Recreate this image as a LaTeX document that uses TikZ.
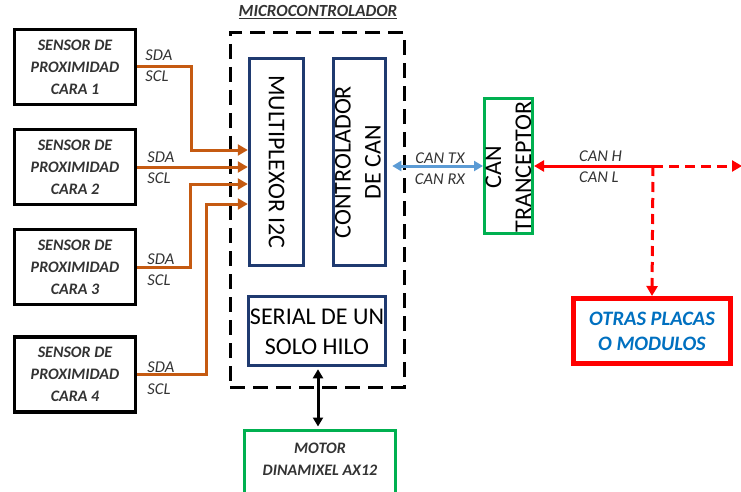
\documentclass[tikz,border=0pt]{standalone}
\usepackage{fontspec}
\setmainfont{Carlito}
\usetikzlibrary{arrows.meta,calc}
\definecolor{orng}{HTML}{C55A11}
\definecolor{navyb}{HTML}{1F3A70}
\definecolor{grn}{HTML}{00B050}
\definecolor{txtgray}{HTML}{333333}
\definecolor{lblue}{HTML}{5B9BD5}
\definecolor{oblue}{HTML}{0070C0}
\definecolor{redc}{HTML}{FF0000}
\begin{document}
\begin{tikzpicture}[x=1pt,y=-1pt,
  sensor/.style={draw=black,line width=3.5pt,minimum width=121pt,minimum height=75pt,
    inner sep=0pt,align=center,text=txtgray,font=\fontsize{16}{22}\selectfont\bfseries\itshape},
  blk/.style={draw=navyb,line width=3.5pt,inner sep=0pt},
  gbox/.style={draw=grn,line width=3pt,inner sep=0pt},
  bigtxt/.style={inner sep=0pt,align=center,font=\fontsize{24}{30}\selectfont,text=black},
  lbl/.style={inner sep=0pt,text=txtgray,font=\fontsize{16.5}{18}\selectfont\itshape},
  oarr/.style={draw=orng,line width=3pt,-{Triangle[length=10pt,width=11pt]}},
  mcubox/.style={draw=black,line width=3pt,dash pattern=on 15pt off 8pt,minimum width=174pt,minimum height=354pt,inner sep=0pt},
  redline/.style={draw=redc,line width=3pt},
  reddash/.style={draw=redc,line width=3pt,dash pattern=on 10pt off 6pt},
  rtip/.style={-{Triangle[length=10pt,width=11pt]}}
]
\useasboundingbox (0,0) rectangle (741,492);

% microcontroller frame
\node[mcubox] (mcu) at (317,210) {};
\node[inner sep=0pt,text=txtgray,font=\fontsize{17}{18}\selectfont\bfseries\itshape] (mcutitle) at (318,12) {\underline{MICROCONTROLADOR}};

% sensors
\node[sensor] (s1) at (75,67) {SENSOR DE\\PROXIMIDAD\\CARA 1};
\node[sensor] (s2) at (75,167) {SENSOR DE\\PROXIMIDAD\\CARA 2};
\node[sensor] (s3) at (75,267) {SENSOR DE\\PROXIMIDAD\\CARA 3};
\node[sensor] (s4) at (75,374.5) {SENSOR DE\\PROXIMIDAD\\CARA 4};

\node[lbl,anchor=west] (sda1) at ($(s1.east)+(8,-12)$) {SDA};
\node[lbl,anchor=west] (scl1) at ($(s1.east)+(8,9)$) {SCL};
\node[lbl,anchor=west] (sda2) at ($(s2.east)+(10,-10)$) {SDA};
\node[lbl,anchor=west] (scl2) at ($(s2.east)+(10,11)$) {SCL};
\node[lbl,anchor=west] (sda3) at ($(s3.east)+(10,-8)$) {SDA};
\node[lbl,anchor=west] (scl3) at ($(s3.east)+(10,13)$) {SCL};
\node[lbl,anchor=west] (sda4) at ($(s4.east)+(10,-7)$) {SDA};
\node[lbl,anchor=west] (scl4) at ($(s4.east)+(10,15)$) {SCL};

% blocks inside the microcontroller
\node[blk,minimum width=54pt,minimum height=207pt] (mux) at (276.5,162) {};
\node[bigtxt] (muxtxt) at (mux.center) {\rotatebox{-90}{MULTIPLEXOR I2C}};
\node[blk,minimum width=52pt,minimum height=207pt] (ctrl) at (359.5,162) {};
\node[bigtxt] (ctrltxt) at (ctrl.center) {\rotatebox{90}{\begin{tabular}{@{}c@{}}CONTROLADOR\\DE CAN\end{tabular}}};
\node[blk,minimum width=137pt,minimum height=69pt] (serial) at (317,331) {};
\node[bigtxt] (serialtxt) at (317,332) {SERIAL DE UN\\SOLO HILO};

% transceiver
\node[gbox,minimum width=48pt,minimum height=135pt] (xcvr) at (508.5,166) {};
\node[bigtxt] (xcvrtxt) at (510,167) {\rotatebox{90}{\begin{tabular}{@{}c@{}}CAN\\TRANCEPTOR\end{tabular}}};

% motor
\node[gbox,minimum width=151pt,minimum height=74pt] (motor) at (320,467) {};
\node[inner sep=0pt,align=center,text=txtgray,font=\fontsize{16}{22}\selectfont\bfseries\itshape] (motortxt) at (320,459) {MOTOR\\DINAMIXEL AX12};

% other boards
\node[draw=redc,line width=5pt,minimum width=157pt,minimum height=65pt,inner sep=0pt,
  align=center,text=oblue,font=\fontsize{20.5}{25}\selectfont\bfseries\itshape] (otras) at (652,331) {OTRAS PLACAS\\O MODULOS};

% I2C connectors
\coordinate (in1) at ($(mux.west)+(0,-12)$);
\coordinate (in3) at ($(mux.west)+(0,22)$);
\coordinate (in4) at ($(mux.west)+(0,42)$);
\draw[oarr] (s1.east) -| ($(in1)+(-56,0)$) -- (in1);
\draw[oarr] (s2.east) -- (s2.east -| mux.west);
\draw[oarr] (s3.east) -| ($(in3)+(-57,0)$) -- (in3);
\draw[oarr] (s4.east) -| ($(in4)+(-41,0)$) -- (in4);

% CAN TX/RX
\draw[draw=lblue,line width=3pt,{Triangle[length=9pt,width=10pt]}-{Triangle[length=9pt,width=10pt]}]
  ($(xcvr.west -| ctrl.east)+(5,0)$) -- (xcvr.west);
\node[lbl] (cantx) at (440,158) {CAN TX};
\node[lbl] (canrx) at (440,179) {CAN RX};

% CAN bus
\coordinate (j) at (653,166);
\coordinate (busend) at (742,166);
\draw[redline,rtip] (j) -- (xcvr.east);
\draw[reddash,rtip] (j) -- (busend);
\draw[reddash,rtip] (j) -- (otras.north);
\node[lbl,anchor=west] (canh) at (579,156) {CAN H};
\node[lbl,anchor=west] (canl) at (579,177) {CAN L};

% serial to motor
\draw[draw=black,line width=3pt,{Triangle[length=9pt,width=10pt]}-{Triangle[length=9pt,width=10pt]}]
  ($(serial.south)+(1,2)$) -- ($(serial.south |- motor.north)+(1,-2)$);
\end{tikzpicture}
\end{document}
